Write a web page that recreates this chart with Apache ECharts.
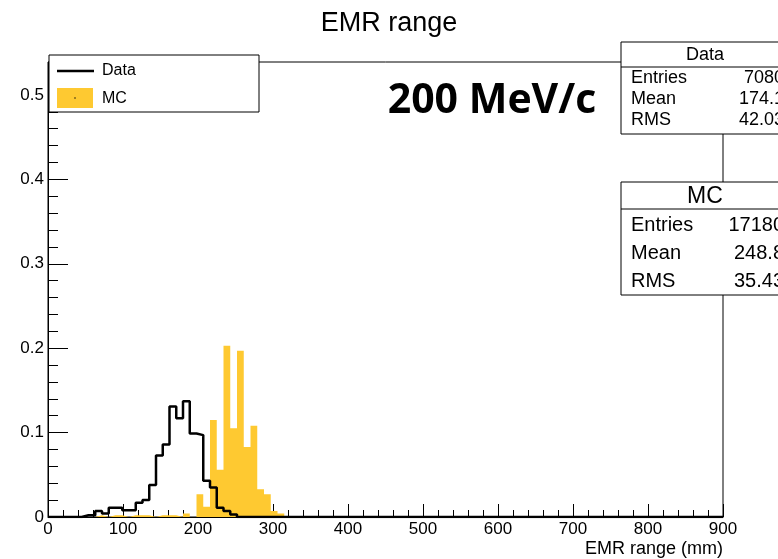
<!DOCTYPE html>
<html>
<head>
<meta charset="utf-8">
<script src="https://cdn.jsdelivr.net/npm/echarts@6/dist/echarts.min.js"></script>
<style>
    html, body { margin: 0; padding: 0; background: #fff; }
    #main { width: 778px; height: 559px; }
</style>
</head>
<body>
<div id="main"></div>
<script>
    // histogram: 100 bins of 9 mm over 0..900, only the filled part listed
    var binWidth = 9;
    var xMax = 900;
    var dataCounts = [0, 0, 0, 0, 0, 0.002, 0.002, 0.007, 0.004, 0.011,
                      0.011, 0.008, 0.008, 0.017, 0.020, 0.038, 0.073, 0.086, 0.131, 0.117,
                      0.137, 0.099, 0.097, 0.043, 0.035, 0.011, 0.007, 0.003, 0, 0];
    var mcCounts = [0, 0, 0, 0, 0, 0, 0, 0.002, 0, 0.002,
                    0.002, 0, 0.002, 0.002, 0.002, 0, 0.002, 0.002, 0.002, 0,
                    0.004, 0, 0.027, 0.012, 0.115, 0.056, 0.203, 0.105, 0.197, 0.083,
                    0.108, 0.033, 0.027, 0.007, 0.004, 0];
    var xTicks = [0, 100, 200, 300, 400, 500, 600, 700, 800, 900];
    var yTicks = [0, 0.1, 0.2, 0.3, 0.4, 0.5];
    var statsData = [['Entries', '7080'], ['Mean', '174.1'], ['RMS', '42.03']];
    var statsMC = [['Entries', '17180'], ['Mean', '248.8'], ['RMS', '35.43']];

    function toSteps(counts) {
        var pts = [];
        for (var i = 0; i < counts.length; i++) {
            pts.push([i * binWidth, counts[i]]);
        }
        pts.push([counts.length * binWidth, 0]);
        pts.push([xMax, 0]);
        return pts;
    }

    var font = '"Liberation Sans", Arial, sans-serif';
    var yellow = '#fec931';

    function statBox(title, rows, top, headH, rowH, headSize, rowSize, shift, pad) {
        var els = [];
        var boxH = headH + rowH * rows.length + pad;
        els.push({ type: 'rect', shape: { x: 621, y: top, width: 170, height: boxH },
            style: { fill: '#fff', stroke: '#000', lineWidth: 1 }, z: 10 });
        els.push({ type: 'line', shape: { x1: 621, y1: top + headH, x2: 791, y2: top + headH },
            style: { stroke: '#000', lineWidth: 1 }, z: 11 });
        els.push({ type: 'text', x: 705, y: top + headH / 2 + 1, z: 11,
            style: { text: title, font: headSize + 'px ' + font, fill: '#000', align: 'center', verticalAlign: 'middle' } });
        rows.forEach(function (r, i) {
            var cy = top + headH + rowH * (i + 0.5) + shift;
            els.push({ type: 'text', x: 631, y: cy, z: 11,
                style: { text: r[0], font: rowSize + 'px ' + font, fill: '#000', verticalAlign: 'middle' } });
            els.push({ type: 'text', x: 784, y: cy, z: 11,
                style: { text: r[1], font: rowSize + 'px ' + font, fill: '#000', align: 'right', verticalAlign: 'middle' } });
        });
        return els;
    }

    var chart = echarts.init(document.getElementById('main'));
    chart.setOption({
        animation: false,
        backgroundColor: '#fff',
        title: {
            text: 'EMR range',
            left: 'center',
            top: 5,
            textStyle: { fontFamily: font, fontWeight: 'normal', fontSize: 27, color: '#000' }
        },
        grid: {
            left: 48, right: 55, top: 62, bottom: 42,
            show: true, borderColor: '#000', borderWidth: 1, backgroundColor: '#fff'
        },
        xAxis: {
            type: 'value',
            min: xTicks[0],
            max: xTicks[xTicks.length - 1],
            interval: xTicks[1] - xTicks[0],
            axisLine: { lineStyle: { color: '#000', width: 1 } },
            axisTick: { inside: true, length: 13, lineStyle: { color: '#000' } },
            minorTick: { show: true, splitNumber: 5, length: 7, lineStyle: { color: '#000' } },
            splitLine: { show: false },
            axisLabel: { margin: 4, fontFamily: font, fontSize: 17, color: '#000' }
        },
        yAxis: {
            type: 'value',
            min: 0,
            max: 0.539,
            interval: yTicks[1] - yTicks[0],
            axisLine: { show: true, lineStyle: { color: '#000', width: 1 } },
            axisTick: { show: true, inside: true, length: 20, lineStyle: { color: '#000' } },
            minorTick: { show: true, splitNumber: 5, length: 10, lineStyle: { color: '#000' } },
            splitLine: { show: false },
            axisLabel: {
                margin: 4, fontFamily: font, fontSize: 17, color: '#000',
                showMaxLabel: false,
                formatter: function (v) {
                    var t = Math.round(v * 10) / 10;
                    if (Math.abs(v - t) > 1e-6 || yTicks.indexOf(t) < 0) return '';
                    return String(t);
                }
            }
        },
        series: [
            {
                name: 'MC',
                type: 'line',
                step: 'end',
                showSymbol: false,
                data: toSteps(mcCounts),
                lineStyle: { width: 0 },
                itemStyle: { color: yellow },
                areaStyle: { color: yellow, opacity: 1 },
                z: 2
            },
            {
                name: 'Data',
                type: 'line',
                step: 'end',
                showSymbol: false,
                data: toSteps(dataCounts),
                lineStyle: { color: '#000', width: 2.5 },
                itemStyle: { color: '#000' },
                z: 3
            }
        ],
        graphic: [
            // legend box
            { type: 'rect', shape: { x: 49, y: 55, width: 210, height: 57 },
              style: { fill: '#fff', stroke: '#000', lineWidth: 1 }, z: 10 },
            { type: 'line', shape: { x1: 57, y1: 71, x2: 94, y2: 71 },
              style: { stroke: '#000', lineWidth: 2.5 }, z: 11 },
            { type: 'text', x: 102, y: 71, z: 11,
              style: { text: 'Data', font: '16px ' + font, fill: '#000', verticalAlign: 'middle' } },
            { type: 'rect', shape: { x: 57, y: 88, width: 36, height: 20 },
              style: { fill: yellow }, z: 11 },
            { type: 'circle', shape: { cx: 75, cy: 98, r: 0.7 },
              style: { fill: '#000' }, z: 12 },
            { type: 'text', x: 102, y: 99, z: 11,
              style: { text: 'MC', font: '16px ' + font, fill: '#000', verticalAlign: 'middle' } },
            // energy label
            { type: 'text', x: 492, y: 101, z: 11,
              style: { text: '200 MeV/c', font: 'bold 41px "Open Sans", sans-serif', fill: '#000',
                       align: 'center', verticalAlign: 'middle' } },
            // axis title
            { type: 'text', x: 723, y: 549, z: 11,
              style: { text: 'EMR range (mm)', font: '18px ' + font, fill: '#000',
                       align: 'right', verticalAlign: 'middle' } }
        ].concat(statBox('Data', statsData, 42, 25, 21, 18, 18, 1, 4))
         .concat(statBox('MC', statsMC, 182, 27, 28, 23, 20, 2, 2))
    });
</script>
</body>
</html>
